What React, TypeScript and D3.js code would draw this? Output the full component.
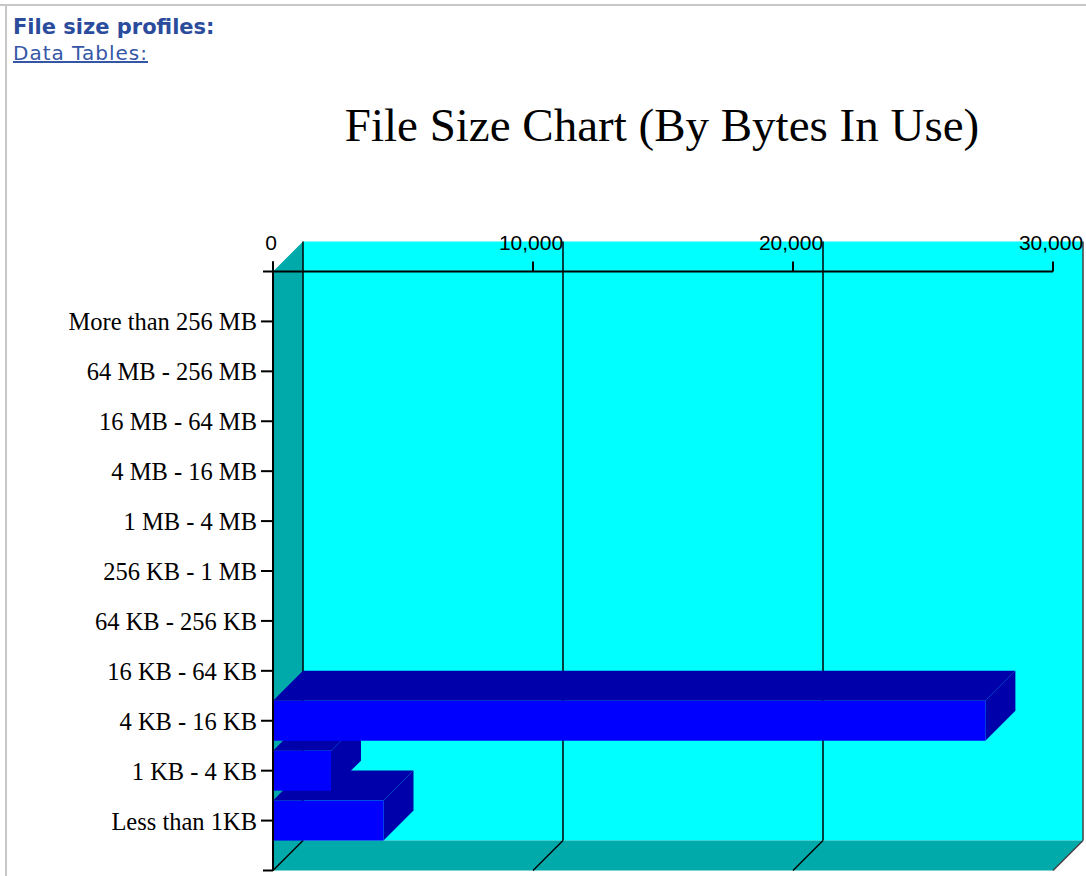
import React from "react";
import * as d3 from "d3";

const categories = [
  "More than 256 MB",
  "64 MB - 256 MB",
  "16 MB - 64 MB",
  "4 MB - 16 MB",
  "1 MB - 4 MB",
  "256 KB - 1 MB",
  "64 KB - 256 KB",
  "16 KB - 64 KB",
  "4 KB - 16 KB",
  "1 KB - 4 KB",
  "Less than 1KB",
];
const bytesInUse = [0, 0, 0, 0, 0, 0, 0, 0, 27400, 2230, 4250];
const xTicks = [0, 10000, 20000, 30000];

const W = 1086;
const H = 876;
const DEPTH = 30;

const App = () => {
  const x = d3.scaleLinear().domain([0, 30000]).range([273, 1053]);
  const y = d3.scalePoint<string>().domain(categories).range([271.5, 870.5]).padding(1);
  const [y0, y1] = [271.5, 870.5];
  const x0 = x(0);
  const xMax = x(30000);
  const barH = y.step() * 0.8;
  const fmt = d3.format(",");

  const poly = (pts: number[][]) => pts.map((p) => p.join(",")).join(" ");

  // draw bottom bars first so the upper ones sit on top
  const bars = categories
    .map((c, i) => ({ c, v: bytesInUse[i] }))
    .filter((d) => d.v > 0)
    .reverse();

  return (
    <svg
      width={W}
      height={H}
      style={{ position: "fixed", left: 0, top: 0, background: "#fff" }}
    >
      {/* page frame */}
      <line x1={0} x2={W} y1={5} y2={5} stroke="#c8c8c8" strokeWidth={2} />
      <line x1={6} x2={6} y1={5} y2={H} stroke="#c8c8c8" strokeWidth={2} />

      <text x={13} y={34} fontFamily="DejaVu Sans" fontWeight="bold" fontSize={21} fill="#2b4c9c">
        File size profiles:
      </text>
      <text
        x={13}
        y={60}
        fontFamily="DejaVu Sans"
        fontSize={20}
        letterSpacing={1}
        fill="#3556a6"
        textDecoration="underline"
      >
        Data Tables:
      </text>

      <text x={662} y={141} textAnchor="middle" fontFamily="Liberation Serif" fontSize={47} fill="#000">
        File Size Chart (By Bytes In Use)
      </text>

      {/* back wall */}
      <polygon
        points={poly([
          [x0 + DEPTH, y0 - DEPTH],
          [xMax + DEPTH, y0 - DEPTH],
          [xMax + DEPTH, y1 - DEPTH],
          [x0 + DEPTH, y1 - DEPTH],
        ])}
        fill="#00ffff"
      />
      {/* left wall */}
      <polygon
        points={poly([
          [x0, y0],
          [x0 + DEPTH, y0 - DEPTH],
          [x0 + DEPTH, y1 - DEPTH],
          [x0, y1],
        ])}
        fill="#00aaaa"
      />
      {/* floor */}
      <polygon
        points={poly([
          [x0, y1],
          [x0 + DEPTH, y1 - DEPTH],
          [xMax + DEPTH, y1 - DEPTH],
          [xMax, y1],
        ])}
        fill="#00aaaa"
      />

      {/* gridlines */}
      {xTicks.map((t) => (
        <g key={t} stroke={t === 30000 ? "#404040" : "#000"} strokeWidth={1.5}>
          <line x1={x(t) + DEPTH} x2={x(t) + DEPTH} y1={y0 - DEPTH} y2={y1 - DEPTH} />
          <line x1={x(t) + DEPTH} x2={x(t)} y1={y1 - DEPTH} y2={y1} />
        </g>
      ))}

      {/* bars */}
      {bars.map((d) => {
        const top = (y(d.c) as number) - barH / 2;
        const bot = top + barH;
        const xe = x(d.v);
        return (
          <g key={d.c}>
            <polygon
              points={poly([
                [x0, top],
                [x0 + DEPTH, top - DEPTH],
                [xe + DEPTH, top - DEPTH],
                [xe, top],
              ])}
              fill="#0000aa"
            />
            <polygon
              points={poly([
                [xe, top],
                [xe + DEPTH, top - DEPTH],
                [xe + DEPTH, bot - DEPTH],
                [xe, bot],
              ])}
              fill="#0000aa"
            />
            <rect x={x0} y={top} width={xe - x0} height={barH} fill="#0000ff" />
          </g>
        );
      })}

      {/* top axis */}
      <line x1={x0 - 10} x2={xMax} y1={y0} y2={y0} stroke="#000" strokeWidth={2} />
      {xTicks.map((t) => (
        <g key={t}>
          <line x1={x(t)} x2={x(t)} y1={y0} y2={y0 - 10} stroke="#000" strokeWidth={2} />
          <text
            x={x(t) - 2}
            y={250}
            textAnchor="middle"
            fontFamily="Liberation Sans"
            fontSize={21}
            fill="#000"
          >
            {fmt(t)}
          </text>
        </g>
      ))}

      {/* left axis */}
      <line x1={x0} x2={x0} y1={y0 - 10} y2={y1} stroke="#000" strokeWidth={2} />
      <line x1={x0 - 10} x2={x0} y1={y1} y2={y1} stroke="#000" strokeWidth={2} />
      {categories.map((c) => (
        <g key={c}>
          <line x1={x0 - 12} x2={x0} y1={y(c)} y2={y(c)} stroke="#000" strokeWidth={2} />
          <text
            x={x0 - 16}
            y={(y(c) as number) + 9}
            textAnchor="end"
            fontFamily="Liberation Serif"
            fontSize={24.5}
            fill="#000"
          >
            {c}
          </text>
        </g>
      ))}
    </svg>
  );
};

export default App;
